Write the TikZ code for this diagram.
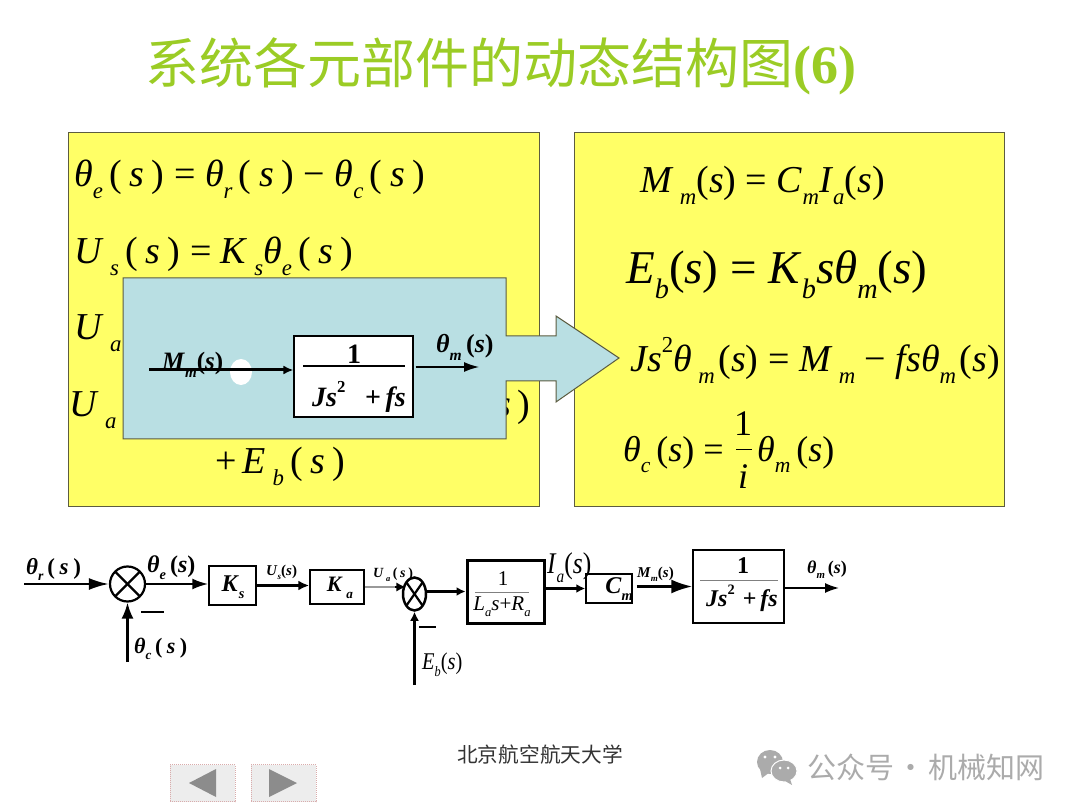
\documentclass[tikz,border=0pt]{standalone}
\usepackage{fontspec}
\setmainfont{Liberation Serif}
\newfontfamily\cjk{Noto Sans CJK SC}
\usetikzlibrary{arrows.meta,shapes.geometric}
\definecolor{boxyellow}{HTML}{FFFF66}
\definecolor{boxedge}{HTML}{5C5C40}
\definecolor{arrowblue}{HTML}{B9DFE3}
\definecolor{titlegreen}{HTML}{9BCC25}
\definecolor{markgray}{HTML}{ABABAB}
\newcommand{\fsz}[1]{\fontsize{#1}{#1}\selectfont}
\newcommand{\sbx}[1]{\raisebox{-.3em}{\scalebox{.6}{\textit{#1}}}}
\newcommand{\spx}[1]{\raisebox{.5em}{\scalebox{.6}{#1}}}
\newcommand{\psx}{(\kern.2em\textit{s}\kern.2em)}
\newcommand{\pst}{(\textit{s})}
\newcommand{\opx}[1]{\kern.25em#1\kern.25em}
\tikzset{
  eqn/.style={anchor=base west,inner sep=0pt},
  lab/.style={anchor=base west,inner sep=0pt,font=\bfseries\fsz{#1}},
  blockbox/.style={draw,fill=white,line width=1.5pt,inner sep=0pt},
  sumj/.style={draw,ellipse,fill=white,line width=2.2pt,inner sep=0pt,path picture={
    \draw[line width=2.2pt] (path picture bounding box.north west) -- (path picture bounding box.south east);
    \draw[line width=2.2pt] (path picture bounding box.north east) -- (path picture bounding box.south west);}},
  flow/.style={line width=2.2pt,-{Latex[length=11pt,width=10pt]}},
  smallflow/.style={line width=2.5pt,-{Latex[length=9pt,width=9pt]}},
  bigflow/.style={line width=2.4pt,-{Latex[length=20pt,width=12pt]}},
  navbox/.style={draw=pink!70!gray,densely dotted,line width=1pt,fill=black!7},
}
\begin{document}
\begin{tikzpicture}[x=1pt,y=-1pt]
  \useasboundingbox (0,0) rectangle (1080,810);
  \fill[white] (0,0) rectangle (1080,810);

  % 标题
  \node[anchor=base west,inner sep=0pt,text=titlegreen] (title) at (145,84)
    {\cjk\fsz{54}系统各元部件的动态结构图\rmfamily\bfseries\fsz{54}(6)};

  % 两个黄色方框
  \draw[boxedge,fill=boxyellow,line width=1pt] (68,133) rectangle (539,506);
  \draw[boxedge,fill=boxyellow,line width=1pt] (574,133) rectangle (1004,506);

  % 左边方程
  \node[eqn,font=\fsz{38}] (eqa) at (74,187) {\textit{θ}\sbx{e}\,\psx\opx{=}\textit{θ}\sbx{r}\,\psx\opx{−}\textit{θ}\sbx{c}\,\psx};
  \node[eqn,font=\fsz{38}] (eqb) at (74,264) {\textit{U}\,\sbx{s}\,\psx\opx{=}\textit{K}\,\sbx{s}\textit{θ}\sbx{e}\,\psx};
  \node[eqn,font=\fsz{38}] (eqc) at (74,340) {\textit{U}\,\sbx{a}};
  \node[eqn,font=\fsz{38}] (eqd) at (69,417) {\textit{U}\,\sbx{a}\,(};
  \node[eqn,font=\fsz{38}] (eqe) at (496,417) {\textit{s}\,)};
  \node[eqn,font=\fsz{38}] (eqf) at (215,474) {+\,\textit{E}\,\sbx{b}\,\psx};

  % 右边方程
  \node[eqn,font=\fsz{38}] (eqg) at (640,193) {\textit{M}\,\sbx{m}\pst\opx{=}\textit{C}\sbx{m}\textit{I}\sbx{a}\pst};
  \node[eqn,font=\fsz{47}] (eqh) at (626,284) {\textit{E}\sbx{b}\pst\opx{=}\textit{K}\sbx{b}\textit{sθ}\sbx{m}\pst};
  \node[eqn,font=\fsz{38}] (eqi) at (630,372) {\textit{Js}\spx{2}\textit{θ}\,\sbx{m}\kern.1em\pst\opx{=}\textit{M}\,\sbx{m}\opx{−}\textit{fsθ}\sbx{m}\kern.1em\pst};
  \node[eqn,font=\fsz{36}] (eqj) at (623,462) {\textit{θ}\sbx{c}\,\pst\opx{=}};
  \node[inner sep=0pt,font=\fsz{36}] (eqnum) at (743,424) {1};
  \node[inner sep=0pt,font=\fsz{36}\itshape] (eqden) at (743,477) {i};
  \draw[line width=1pt] (736,450) -- (752,450);
  \node[eqn,font=\fsz{36}] (eqk) at (757,462) {\textit{θ}\sbx{m}\,\pst};

  % 蓝色大箭头
  \draw[boxedge,fill=arrowblue,line width=1pt] (123,278) -- (506,278) -- (506,336) -- (556,336) -- (556,316)
    -- (619,358) -- (556,402) -- (556,381) -- (506,381) -- (506,439) -- (123,439) -- cycle;

  % 箭头内的方框
  \node[blockbox,line width=1.2pt,minimum width=119pt,minimum height=81pt] (ib) at (353.5,376.5) {};
  \node[inner sep=0pt,font=\bfseries\fsz{28}] (ione) at (354,354) {1};
  \draw[line width=1.2pt] (303,366) -- (405,366);
  \node[inner sep=0pt,font=\bfseries\fsz{28}] (iden) at (359,397) {\textit{Js}\spx{2}\kern.7em+\,\textit{fs}};
  \coordinate (iin) at (149,370);
  \coordinate (iout) at (479,367);
  \fill[white] (241,372) ellipse (11 and 13);
  \node[lab=25] (iml) at (162,370) {\textit{M}\sbx{m}\pst};
  \draw[line width=3pt,-{Latex[length=10pt,width=9pt]}] (iin) -- (iin -| ib.west);
  \draw[line width=1.4pt,-{Latex[length=15pt,width=10pt]},shorten <=2pt] (ib.east |- iout) -- (iout);
  \node[lab=26] (itl) at (436,353) {\textit{θ}\sbx{m}\,\pst};

  % 下面的结构图
  \node[sumj,minimum width=35pt,minimum height=35pt] (s1) at (127.5,584) {};
  \node[blockbox,minimum width=47pt,minimum height=39pt] (ks) at (232.5,585.5) {};
  \node[blockbox,minimum width=54pt,minimum height=34pt] (ka) at (337,587) {};
  \node[sumj,line width=2.5pt,minimum width=23pt,minimum height=33pt] (s2) at (414.5,594) {};
  \node[blockbox,line width=3pt,minimum width=77pt,minimum height=63pt] (la) at (505.5,591.5) {};
  \node[blockbox,minimum width=46pt,minimum height=29pt] (cm) at (609,588.5) {};
  \node[blockbox,minimum width=91pt,minimum height=73pt] (jb) at (738.5,586.5) {};
  \coordinate (rin) at (24,584);
  \coordinate (cin) at (127.5,662);
  \coordinate (ein) at (414.5,685);
  \coordinate (mout) at (839,588);

  \draw[bigflow] (rin) -- (s1.west);
  \draw[line width=2.2pt,-{Latex[length=16pt,width=11pt]}] (s1.east) -- (s1.east -| ks.west);
  \draw[line width=2.2pt,-{Latex[length=16pt,width=12pt]}] (cin) -- (s1.south);
  \draw[flow] (ks.east) -- (ks.east -| ka.west);
  \draw[black!40,line width=1.2pt] (ka.east) -- (397,587);
  \draw[line width=1.2pt,-{Latex[length=9pt,width=9pt]}] (395,587) -- (s2.north west |- ka.east);
  \draw[smallflow] (ein) -- (s2.south);
  \draw[smallflow] (s2.east |- la.west) -- (la.west);
  \draw[smallflow] (la.east |- cm.west) -- (cm.west);
  \draw[line width=2.4pt,-{Latex[length=21pt,width=14pt]},shorten <=4pt] (cm.east |- jb.west) -- (jb.west);
  \draw[line width=1.6pt,-{Latex[length=14pt,width=10pt]}] (jb.east |- mout) -- (mout);

  % 减号
  \draw[line width=1.5pt] (141,612) -- (164,612);
  \draw[line width=2.5pt] (419,627) -- (436,627);

  % 方框内文字
  \node[inner sep=0pt,font=\bfseries\fsz{24}] (kst) at (233,587) {\textit{K}\sbx{s}};
  \node[inner sep=0pt,font=\bfseries\fsz{22}] (kat) at (340,588) {\textit{K}\,\sbx{a}};
  \node[inner sep=0pt,font=\fsz{21}] (lan) at (503,579) {1};
  \draw[black!50,line width=1pt] (475,592.5) -- (529,592.5);
  \node[inner sep=0pt,font=\fsz{21}] (lad) at (502,607) {\textit{L}\sbx{a}\textit{s}+\textit{R}\sbx{a}};
  \node[inner sep=0pt,font=\bfseries\fsz{24}] (cmt) at (619,589) {\textit{C}\sbx{m}};
  \node[inner sep=0pt,font=\bfseries\fsz{24}] (jn) at (743,566) {1};
  \draw[black!50,line width=1pt] (700,580) -- (778,580);
  \node[inner sep=0pt,font=\bfseries\fsz{24}] (jd) at (742,598) {\textit{Js}\spx{2}\,\,+\,\textit{fs}};

  % 信号标注
  \node[lab=23] (lr) at (26,574) {\textit{θ}\sbx{r}\,\psx};
  \node[lab=24] (le) at (147,572) {\textit{θ}\sbx{e}\,\pst};
  \node[lab=22] (lc) at (134,653) {\textit{θ}\sbx{c}\,\psx};
  \node[lab=15] (lu) at (266,575) {\textit{U}\sbx{s}\pst};
  \node[lab=14] (lua) at (373,577) {\textit{U}\,\sbx{a}\,\psx};
  \node[inner sep=0pt,anchor=base west,font=\fsz{24}] (leb) at (422,669) {\scalebox{.85}[1]{\textit{E}\sbx{b}\pst}};
  \node[inner sep=0pt,anchor=base west,font=\fsz{30}] (lia) at (547,573) {\scalebox{.85}[1]{\textit{I}\sbx{a}\pst}};
  \node[lab=15] (lm) at (637,577) {\textit{M}\sbx{m}\pst};
  \node[lab=18] (lt) at (807,573) {\textit{θ}\sbx{m}\,\pst};

  % 页脚
  \node[anchor=base west,inner sep=0pt,text=black!80] (foot) at (457,762) {\cjk\fsz{20.7}北京航空航天大学};

  % 翻页按钮
  \node[navbox,minimum width=65pt,minimum height=37pt,inner sep=0pt] (prev) at (202.5,783) {};
  \node[navbox,minimum width=65pt,minimum height=37pt,inner sep=0pt] (next) at (283.5,783) {};
  \fill[black!45] (189,783) -- (216,769) -- (216,797) -- cycle;
  \fill[black!45] (297,783) -- (269,769) -- (269,797) -- cycle;

  % 水印
  \fill[markgray] (770,762) ellipse (13 and 12);
  \fill[markgray] (760,769) -- (762,778) -- (770,772) -- cycle;
  \fill[markgray,draw=white,line width=1pt] (784,771) ellipse (13 and 11);
  \fill[markgray] (790,779) -- (792,785) -- (785,781) -- cycle;
  \fill[white] (765,757) circle (1.7) (775,757) circle (1.7) (780,768) circle (1.5) (788,768) circle (1.5);
  \node[anchor=base west,inner sep=0pt,text=markgray] (mark) at (807,778) {\cjk\fsz{29}公众号\kern-4pt{} · \kern-4pt{}机械知网};
\end{tikzpicture}
\end{document}
